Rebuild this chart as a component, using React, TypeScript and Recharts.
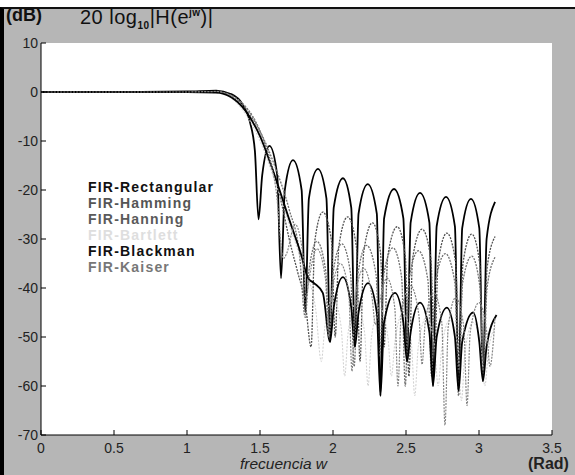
import { LineChart, Line, XAxis, YAxis } from "recharts";

// (w en rad, dB)
const rectangular = [
  [0, 0], [0.6, 0], [1.0, 0.1], [1.2, 0.3], [1.3, -0.4], [1.38, -2.5], [1.43, -6], [1.465, -12], [1.49, -26],
  [1.515, -17], [1.565, -11], [1.618, -17], [1.644, -38],
  [1.67, -20], [1.726, -13.9], [1.785, -20], [1.81, -45],
  [1.835, -21.7], [1.897, -15.7], [1.955, -21.7], [1.98, -51],
  [2.005, -23.6], [2.068, -17.6], [2.125, -23.6], [2.15, -52],
  [2.175, -24.8], [2.238, -18.8], [2.3, -24.8], [2.325, -62],
  [2.35, -25.8], [2.418, -19.8], [2.482, -25.8], [2.507, -55],
  [2.532, -26.6], [2.596, -20.6], [2.66, -26.6], [2.685, -60],
  [2.71, -27.4], [2.774, -21.4], [2.835, -27.4], [2.86, -61],
  [2.885, -27.8], [2.945, -21.8], [3.002, -27.8], [3.027, -59],
  [3.052, -30], [3.11, -22.4],
];

const hamming = [
  [0, 0], [1.0, 0], [1.2, 0.1], [1.3, -0.6], [1.4, -3], [1.45, -5], [1.5, -8], [1.55, -12], [1.6, -17],
  [1.65, -23], [1.7, -30], [1.76, -37], [1.81, -43], [1.85, -52],
  [1.875, -30.5], [1.93, -24.5], [1.99, -30.5], [2.015, -50],
  [2.04, -31.5], [2.1, -25.5], [2.16, -31.5], [2.185, -55],
  [2.21, -32.7], [2.27, -26.7], [2.325, -32.7], [2.35, -52],
  [2.375, -33.5], [2.44, -27.5], [2.495, -33.5], [2.52, -58],
  [2.545, -34], [2.61, -28], [2.67, -34], [2.695, -54],
  [2.72, -34.8], [2.78, -28.8], [2.84, -34.8], [2.865, -57],
  [2.89, -35], [2.95, -29], [3.005, -35], [3.03, -55],
  [3.055, -36], [3.11, -29.5],
];

const hanning = [
  [0, 0], [1.0, 0], [1.2, 0], [1.3, -0.8], [1.4, -3.5], [1.5, -8], [1.6, -15], [1.7, -24], [1.77, -33], [1.81, -46],
  [1.835, -36.5], [1.89, -30.5], [1.95, -36.5], [1.975, -50],
  [2.0, -37], [2.06, -31], [2.12, -37], [2.145, -56],
  [2.17, -37.3], [2.23, -31.3], [2.295, -37.3], [2.32, -54],
  [2.345, -37.8], [2.41, -31.8], [2.47, -37.8], [2.495, -60],
  [2.52, -38.4], [2.585, -32.4], [2.65, -38.4], [2.675, -58],
  [2.7, -39], [2.77, -33], [2.835, -39], [2.86, -62],
  [2.885, -39.5], [2.95, -33.5], [3.005, -39.5], [3.03, -57],
  [3.055, -40], [3.11, -33.7],
];

const bartlett = [
  [0, 0], [1.0, 0], [1.2, -0.2], [1.3, -1.2], [1.4, -4.5], [1.5, -10], [1.6, -18], [1.7, -27], [1.8, -36], [1.88, -44], [1.92, -55],
  [1.944, -48], [2.0, -42], [2.056, -48], [2.08, -58],
  [2.104, -49], [2.16, -43], [2.216, -49], [2.24, -60],
  [2.264, -50], [2.32, -44], [2.376, -50], [2.4, -58],
  [2.424, -51], [2.48, -45], [2.536, -51], [2.56, -62],
  [2.584, -52], [2.64, -46], [2.696, -52], [2.72, -60],
  [2.744, -52.5], [2.8, -46.5], [2.856, -52.5], [2.88, -63],
  [2.904, -53], [2.96, -47], [3.016, -53], [3.04, -60],
  [3.064, -53], [3.11, -48],
];

const blackman = [
  [0, 0], [1.0, 0], [1.2, -0.1], [1.3, -1], [1.4, -3.8], [1.5, -9], [1.6, -17], [1.7, -26], [1.78, -33],
  [1.83, -38], [1.87, -39], [1.93, -41], [1.98, -51],
  [2.005, -44], [2.068, -37.8], [2.125, -44], [2.15, -52],
  [2.175, -45], [2.24, -39], [2.3, -45], [2.325, -62],
  [2.35, -47], [2.425, -41], [2.482, -47], [2.507, -55],
  [2.532, -49], [2.596, -43], [2.66, -49], [2.685, -60],
  [2.71, -50], [2.78, -44], [2.835, -50], [2.86, -61],
  [2.885, -51], [2.96, -45], [3.002, -51], [3.027, -59],
  [3.052, -52], [3.12, -45.5],
];

const kaiser = [
  [0, 0], [1.0, 0], [1.2, 0.1], [1.3, -0.7], [1.4, -3], [1.5, -8], [1.56, -13], [1.61, -20], [1.66, -34],
  [1.682, -33], [1.74, -27], [1.793, -33], [1.815, -42],
  [1.837, -38], [1.89, -32], [1.948, -38], [1.97, -50],
  [1.992, -41], [2.05, -35], [2.108, -41], [2.13, -57],
  [2.152, -42], [2.21, -36], [2.268, -42], [2.29, -47.5],
  [2.312, -44], [2.37, -38], [2.423, -44], [2.445, -60],
  [2.467, -45.5], [2.53, -39.5], [2.588, -45.5], [2.61, -55.6],
  [2.632, -47], [2.69, -41], [2.745, -47], [2.767, -68],
  [2.789, -48], [2.84, -42], [2.896, -48], [2.918, -64],
  [2.94, -49], [3.0, -43], [3.053, -49], [3.075, -56],
  [3.11, -46],
];

const xTicks = [0, 0.5, 1, 1.5, 2, 2.5, 3, 3.5];
const yTicks = [-70, -60, -50, -40, -30, -20, -10, 0, 10];

const series = [
  { name: "FIR-Rectangular", data: rectangular, color: "#000", width: 1.8, dash: undefined, text: "#111" },
  { name: "FIR-Hamming", data: hamming, color: "#505050", width: 1.3, dash: "2 1.2", text: "#555" },
  { name: "FIR-Hanning", data: hanning, color: "#707070", width: 1.3, dash: "2 1.2", text: "#5a5a5a" },
  { name: "FIR-Bartlett", data: bartlett, color: "#d0d0d0", width: 1, dash: "2 1.5", text: "#dedede" },
  { name: "FIR-Blackman", data: blackman, color: "#000", width: 1.8, dash: undefined, text: "#111" },
  { name: "FIR-Kaiser", data: kaiser, color: "#858585", width: 1.2, dash: "2 1.2", text: "#777" },
];

const toPoints = (arr: number[][]) => arr.map(([w, db]) => ({ w, db }));

const font = "'Liberation Sans', Arial, sans-serif";

const BottomTick = ({ x, y, payload }: any) => (
  <g>
    <line x1={x} y1={y} x2={x} y2={y - 5} stroke="#000" />
    <text x={x} y={y + 18} textAnchor="middle" fontSize={14} fill="#222" fontFamily={font}>{payload.value}</text>
  </g>
);
const TopTick = ({ x, y }: any) => <line x1={x} y1={y} x2={x} y2={y + 5} stroke="#000" />;
const LeftTick = ({ x, y, payload }: any) => (
  <g>
    <line x1={x} y1={y} x2={x + 5} y2={y} stroke="#000" />
    <text x={x - 3} y={y + 5} textAnchor="end" fontSize={14} fill="#222" fontFamily={font}>{payload.value}</text>
  </g>
);
const RightTick = ({ x, y }: any) => <line x1={x} y1={y} x2={x - 5} y2={y} stroke="#000" />;

export default function App() {
  return (
    <div style={{ position: "absolute", left: 0, top: 0, width: 575, height: 475, fontFamily: font }}>
      <div style={{ position: "absolute", left: 0, top: 7, width: 575, height: 468, background: "#b6b6b6", borderLeft: "4px solid #000", borderTop: "2px solid #111", boxSizing: "border-box" }} />
      <div style={{ position: "absolute", left: 41, top: 43, width: 511, height: 392, background: "#fff" }} />
      <div style={{ position: "absolute", left: 0, top: 0 }}>
        <LineChart width={575} height={475} margin={{ top: 43, right: 23, bottom: 0, left: 0 }}>
          <XAxis xAxisId="b" dataKey="w" type="number" domain={[0, 3.5]} ticks={xTicks} allowDataOverflow height={40} tickSize={0} tickMargin={0} tick={<BottomTick />} tickLine={false} axisLine={{ stroke: "#000" }} />
          <XAxis xAxisId="t" orientation="top" dataKey="w" type="number" domain={[0, 3.5]} ticks={xTicks} height={0} tickSize={0} tickMargin={0} tick={<TopTick />} tickLine={false} axisLine={{ stroke: "#000" }} />
          <YAxis yAxisId="l" type="number" domain={[-70, 10]} ticks={yTicks} width={41} tickSize={0} tickMargin={0} tick={<LeftTick />} tickLine={false} axisLine={{ stroke: "#000" }} />
          <YAxis yAxisId="r" orientation="right" type="number" domain={[-70, 10]} ticks={yTicks} width={0} tickSize={0} tickMargin={0} tick={<RightTick />} tickLine={false} axisLine={{ stroke: "#000" }} />
          {series.map(s => (
            <Line key={s.name} xAxisId="b" yAxisId="l" data={toPoints(s.data)} dataKey="db" type="monotone" stroke={s.color} strokeWidth={s.width} strokeDasharray={s.dash} dot={false} isAnimationActive={false} />
          ))}
        </LineChart>
      </div>
      <div style={{ position: "absolute", left: 6, top: 5, fontSize: 18, fontWeight: "bold", color: "#111" }}>(dB)</div>
      <div style={{ position: "absolute", left: 80, top: 6, fontSize: 20, letterSpacing: 0.5, color: "#111", whiteSpace: "nowrap" }}>
        20 log<sub style={{ fontSize: 10, fontWeight: "bold" }}>10</sub>|H(e<sup style={{ fontSize: 10, fontWeight: "bold" }}>jw</sup>)|
      </div>
      {series.map((s, i) => (
        <div key={s.name} style={{ position: "absolute", left: 88, top: 179 + i * 16, fontSize: 14, lineHeight: "16px", letterSpacing: 1.2, fontWeight: "bold", color: s.text, whiteSpace: "nowrap" }}>{s.name}</div>
      ))}
      <div style={{ position: "absolute", left: 240, top: 455, fontSize: 15.5, fontStyle: "italic", color: "#222" }}>frecuencia w</div>
      <div style={{ position: "absolute", left: 528, top: 455, fontSize: 16, fontWeight: "bold", color: "#222" }}>(Rad)</div>
    </div>
  );
}
